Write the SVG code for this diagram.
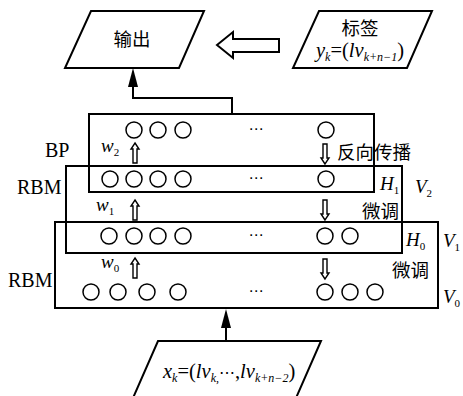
<svg xmlns="http://www.w3.org/2000/svg" width="463" height="396" viewBox="0 0 463 396">
  <style>
    .frame { fill: none; stroke: #000; stroke-width: 2; }
    .para { fill: #fff; stroke: #000; stroke-width: 2; }
    .unit { fill: #fff; stroke: #000; stroke-width: 1.5; }
    .hollow { fill: #fff; stroke: #000; stroke-width: 1.4; stroke-linejoin: miter; }
    .wire { fill: none; stroke: #000; stroke-width: 2; }
    .cjk { font-family: "Noto Sans CJK SC", sans-serif; font-size: 18.5px; fill: #000; }
    .lat { font-family: "Liberation Serif", serif; font-size: 20px; fill: #000; }
    .math { font-family: "Liberation Serif", serif; font-style: italic; font-size: 19px; fill: #000; }
    .big { font-size: 20.5px; }
    .up { font-family: "Liberation Serif", serif; font-style: normal; }
    .dots { font-family: "DejaVu Sans", sans-serif; font-size: 15px; fill: #000; }
  </style>
  <defs>
    <circle id="u" r="8" class="unit"/>
    <!-- small hollow arrows between layers, drawn pointing up around origin -->
    <polygon id="upArrow" class="hollow" points="0,0 4,6 2,6 2,20 -2,20 -2,6 -4,6"/>
    <!-- solid arrowhead; its base sits on the end of the path -->
    <marker id="head" markerUnits="userSpaceOnUse" markerWidth="22" markerHeight="14" refX="-19" refY="0" orient="auto" viewBox="-20 -7 22 14">
      <polygon points="0,0 -19,-5 -19,5" fill="#000"/>
    </marker>
  </defs>

  <!-- output and label boxes -->
  <g id="output">
    <polygon class="para" points="91,11 204,11 179,68 65,68"/>
    <text class="cjk" x="132" y="46" text-anchor="middle">输出</text>
  </g>
  <g id="label">
    <polygon class="para" points="319,11 432,11 407,68 293,68"/>
    <text class="cjk" x="360" y="35" text-anchor="middle">标签</text>
    <text class="math big" x="316" y="57">y<tspan font-size="12" dy="4">k</tspan><tspan class="up" dy="-4">=(</tspan>lv<tspan font-size="12" dy="4">k+n−1</tspan><tspan class="up" dy="-4">)</tspan></text>
  </g>

  <!-- stacked layer frames -->
  <g id="bp-layer">
    <rect class="frame" x="89" y="114" width="285" height="78"/>
    <text class="lat" x="45" y="157">BP</text>
  </g>
  <g id="rbm-upper">
    <rect class="frame" x="66" y="166" width="336" height="87"/>
    <text class="lat" x="17" y="194">RBM</text>
  </g>
  <g id="rbm-lower">
    <rect class="frame" x="55" y="222" width="383" height="86"/>
    <text class="lat" x="8" y="287">RBM</text>
  </g>

  <!-- units of each layer -->
  <g id="output-units">
    <use href="#u" x="134" y="130"/>
    <use href="#u" x="158" y="130"/>
    <use href="#u" x="183" y="130"/>
    <text class="dots" x="256" y="134" text-anchor="middle">⋯</text>
    <use href="#u" x="326" y="130"/>
  </g>
  <g id="h1-units">
    <use href="#u" x="110" y="179"/>
    <use href="#u" x="134" y="179"/>
    <use href="#u" x="158" y="179"/>
    <use href="#u" x="183" y="179"/>
    <text class="dots" x="256" y="183" text-anchor="middle">⋯</text>
    <use href="#u" x="326" y="179"/>
    <text class="math" x="380" y="190">H<tspan class="up" font-size="11" dy="4">1</tspan></text>
    <text class="math" x="415" y="193">V<tspan class="up" font-size="11" dy="4">2</tspan></text>
  </g>
  <g id="h0-units">
    <use href="#u" x="109" y="236"/>
    <use href="#u" x="134" y="236"/>
    <use href="#u" x="158" y="236"/>
    <use href="#u" x="183" y="236"/>
    <text class="dots" x="256" y="240" text-anchor="middle">⋯</text>
    <use href="#u" x="325" y="236"/>
    <use href="#u" x="350" y="236"/>
    <text class="math" x="406" y="246">H<tspan class="up" font-size="11" dy="4">0</tspan></text>
    <text class="math" x="443" y="247">V<tspan class="up" font-size="11" dy="4">1</tspan></text>
  </g>
  <g id="v0-units">
    <use href="#u" x="91" y="292"/>
    <use href="#u" x="118" y="292"/>
    <use href="#u" x="147" y="292"/>
    <use href="#u" x="178" y="292"/>
    <text class="dots" x="256" y="296" text-anchor="middle">⋯</text>
    <use href="#u" x="325" y="292"/>
    <use href="#u" x="350" y="292"/>
    <use href="#u" x="375" y="292"/>
    <text class="math" x="443" y="303">V<tspan class="up" font-size="11" dy="4">0</tspan></text>
  </g>

  <!-- weights, pre-training and fine-tuning flow -->
  <g id="weights">
    <use href="#upArrow" x="135" y="143"/>
    <text class="math" x="101" y="152">w<tspan class="up" font-size="11" dy="4">2</tspan></text>
    <use href="#upArrow" x="135" y="200"/>
    <text class="math" x="96" y="211">w<tspan class="up" font-size="11" dy="4">1</tspan></text>
    <use href="#upArrow" x="135" y="258"/>
    <text class="math" x="101" y="268">w<tspan class="up" font-size="11" dy="4">0</tspan></text>
  </g>
  <g id="tuning">
    <use href="#upArrow" transform="translate(325,164) rotate(180)"/>
    <text class="cjk" x="337" y="159">反向传播</text>
    <use href="#upArrow" transform="translate(325,220) rotate(180)"/>
    <text class="cjk" x="362" y="218">微调</text>
    <use href="#upArrow" transform="translate(325,279) rotate(180)"/>
    <text class="cjk" x="392" y="277">微调</text>
  </g>

  <!-- input box -->
  <g id="input">
    <polygon class="para" points="158,341 321,341 296,398 133,398"/>
    <text class="math big" x="163" y="378">x<tspan font-size="12" dy="4">k</tspan><tspan class="up" dy="-4">=(</tspan>lv<tspan font-size="12" dy="4">k</tspan><tspan class="up" font-size="12">,</tspan><tspan class="up" font-family="DejaVu Sans" font-size="16" dy="-4">⋯</tspan><tspan class="up">,</tspan>lv<tspan font-size="12" dy="4">k+n−2</tspan><tspan class="up" dy="-4">)</tspan></text>
  </g>

  <g id="connectors">
    <!-- hollow arrow from label to output -->
    <polygon class="para" points="217,45 233,32 233,39 279,39 279,52 233,52 233,58"/>
    <path class="wire" d="M232,114 V98 H133 V87" marker-end="url(#head)"/>
    <path class="wire" d="M226,341 V328" marker-end="url(#head)"/>
  </g>
</svg>
